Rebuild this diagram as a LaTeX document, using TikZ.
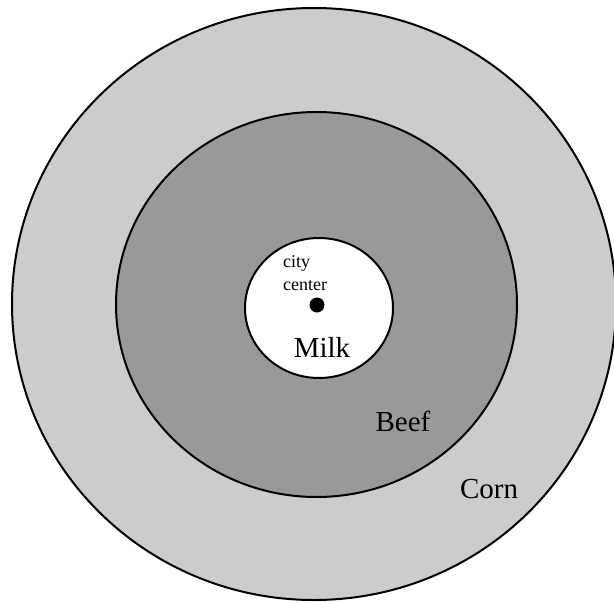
\documentclass[tikz,border=0pt]{standalone}
\usepackage{fontspec}
\setmainfont{Liberation Serif}
\usetikzlibrary{shapes.geometric}
\definecolor{cornzone}{gray}{0.8}
\definecolor{beefzone}{gray}{0.6}
\tikzset{
  ring/.style={draw=black, line width=2pt},
  zonelabel/.style={inner sep=0pt, font=\fontsize{29}{32}\selectfont},
  smalllabel/.style={inner sep=0pt, align=left, font=\fontsize{18}{23}\selectfont}
}
\begin{document}
\begin{tikzpicture}[x=1pt, y=-1pt]
  \useasboundingbox (0,0) rectangle (614,603);
  % concentric land-use rings around the city
  \draw[ring, fill=cornzone] (314,304) ellipse [x radius=302, y radius=296];
  \draw[ring, fill=beefzone] (316.5,304.5) ellipse [x radius=200.5, y radius=192.5];
  \draw[ring, fill=white] (319,308) ellipse [x radius=74, y radius=70];
  % city center marker
  \fill (317,305) circle [radius=7.5];
  % labels
  \node[smalllabel, anchor=west] (city) at (283,273) {city\\center};
  \node[zonelabel] (milk) at (322,347) {Milk};
  \node[zonelabel] (beef) at (403,421) {Beef};
  \node[zonelabel] (corn) at (489,489) {Corn};
\end{tikzpicture}
\end{document}
